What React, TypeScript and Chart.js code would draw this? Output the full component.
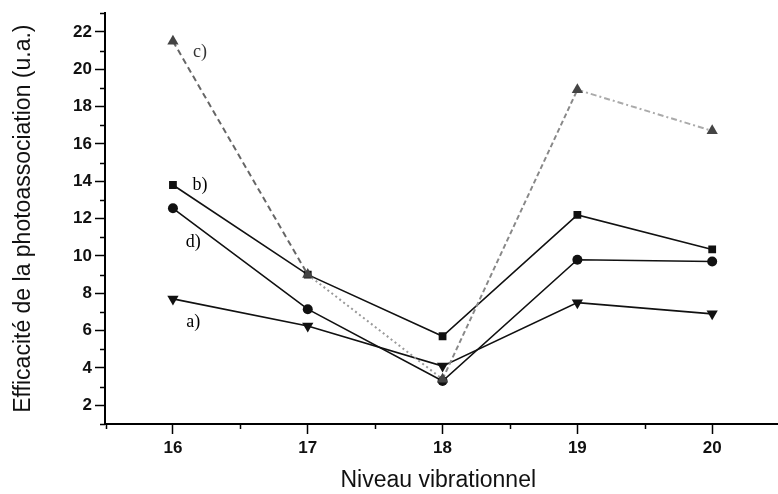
import React, { useEffect, useRef } from 'react';
import { Chart, registerables } from 'chart.js';

Chart.register(...registerables);

// Vibrational levels (x values)
const levels = [16, 17, 18, 19, 20];
// Photoassociation efficiency (arb. units) per curve
const seriesA = [7.7, 6.25, 4.1, 7.5, 6.9];
const seriesB = [13.8, 9.0, 5.7, 12.2, 10.35];
const seriesC = [21.5, 9.0, 3.4, 18.9, 16.7];
const seriesD = [12.55, 7.15, 3.3, 9.8, 9.7];

// Axis ranges
const xRange = [15.496, 20.44];
const yRange = [1, 23];

// Curve annotations (text + data position)
const curveLabels = ['a)', 'b)', 'c)', 'd)'];
const labelX = [16.15, 16.2, 16.2, 16.15];
const labelY = [6.45, 13.8, 20.9, 10.75];

const xTitle = 'Niveau vibrationnel';
const yTitle = 'Efficacité de la photoassociation (u.a.)';

const toPoints = (ys: number[]) => levels.map((x, i) => ({ x, y: ys[i] }));

const cDashes = [[6, 4], [2, 3], [5, 3], [6, 3, 2, 3]];
const cColors = ['#666666', '#999999', '#888888', '#aaaaaa'];

const halfSteps = [15.5, 16.5, 17.5, 18.5, 19.5, 20.5];

const minorTicks = {
  id: 'minorTicks',
  afterDraw(chart: any) {
    const ctx = chart.ctx;
    const xs = chart.scales.x;
    const ys = chart.scales.y;
    ctx.save();
    ctx.strokeStyle = '#000';
    ctx.lineWidth = 1.5;
    ys.ticks.forEach((t: any) => {
      if (t.value % 2 !== 0) {
        const p = Math.round(ys.getPixelForValue(t.value)) + 0.5;
        ctx.beginPath();
        ctx.moveTo(ys.right - 5, p);
        ctx.lineTo(ys.right, p);
        ctx.stroke();
      }
    });
    halfSteps.forEach((v) => {
      if (v < xs.min || v > xs.max) return;
      const p = Math.round(xs.getPixelForValue(v)) + 0.5;
      ctx.beginPath();
      ctx.moveTo(p, xs.top);
      ctx.lineTo(p, xs.top + 5);
      ctx.stroke();
    });
    // axis line continues to the edge of the figure
    ctx.lineWidth = 2;
    ctx.beginPath();
    ctx.moveTo(xs.right - 1, xs.top);
    ctx.lineTo(chart.width, xs.top);
    ctx.stroke();
    ctx.restore();
  },
};

const curveText = {
  id: 'curveText',
  afterDatasetsDraw(chart: any) {
    const ctx = chart.ctx;
    const xs = chart.scales.x;
    const ys = chart.scales.y;
    ctx.save();
    ctx.font = '18px "Liberation Serif", serif';
    ctx.textAlign = 'center';
    ctx.textBaseline = 'middle';
    curveLabels.forEach((txt, i) => {
      ctx.fillStyle = txt === 'c)' ? '#333' : '#000';
      ctx.fillText(txt, xs.getPixelForValue(labelX[i]), ys.getPixelForValue(labelY[i]));
    });
    ctx.restore();
  },
};

export default function App() {
  const ref = useRef<HTMLCanvasElement | null>(null);

  useEffect(() => {
    document.body.style.margin = '0';
    const canvas = ref.current;
    if (!canvas) return;
    const tickFont = { family: '"Liberation Sans", Arial, sans-serif', size: 17, weight: 'bold' as const };
    const titleFont = { family: '"Liberation Sans", Arial, sans-serif', size: 23 };

    const chart = new Chart(canvas, {
      type: 'line',
      data: {
        datasets: [
          {
            label: 'c)',
            data: toPoints(seriesC),
            borderColor: '#888',
            borderWidth: 2,
            pointStyle: 'triangle',
            pointRadius: 6.5,
            pointBackgroundColor: '#444',
            pointBorderColor: '#444',
            pointBorderWidth: 0,
            segment: {
              borderDash: (c: any) => cDashes[c.p0DataIndex],
              borderColor: (c: any) => cColors[c.p0DataIndex],
            },
          },
          {
            label: 'b)',
            data: toPoints(seriesB),
            borderColor: '#111',
            borderWidth: 1.6,
            pointStyle: 'rect',
            pointRadius: 5.5,
            pointBackgroundColor: '#111',
            pointBorderColor: '#111',
            pointBorderWidth: 0,
          },
          {
            label: 'd)',
            data: toPoints(seriesD),
            borderColor: '#111',
            borderWidth: 1.6,
            pointStyle: 'circle',
            pointRadius: 5,
            pointBackgroundColor: '#111',
            pointBorderColor: '#111',
            pointBorderWidth: 0,
          },
          {
            label: 'a)',
            data: toPoints(seriesA),
            borderColor: '#111',
            borderWidth: 1.6,
            pointStyle: 'triangle',
            pointRotation: 180,
            pointRadius: 6.5,
            pointBackgroundColor: '#111',
            pointBorderColor: '#111',
            pointBorderWidth: 0,
          },
        ],
      },
      options: {
        responsive: false,
        animation: false,
        events: [],
        layout: { padding: { top: 9, right: 0, left: 0, bottom: 0 } },
        plugins: {
          legend: { display: false },
          tooltip: { enabled: false },
        },
        scales: {
          x: {
            type: 'linear',
            min: xRange[0],
            max: xRange[1],
            afterFit: (s: any) => { s.height = 70; },
            afterBuildTicks: (s: any) => {
              s.ticks = levels.map((v) => ({ value: v }));
            },
            border: { display: true, color: '#000', width: 2 },
            grid: {
              display: true,
              drawOnChartArea: false,
              drawTicks: true,
              tickLength: 10,
              tickWidth: 1.5,
              tickColor: '#000',
            },
            ticks: {
              autoSkip: false,
              maxRotation: 0,
              padding: 4,
              color: '#111',
              font: tickFont,
              callback: (v: any) => String(v),
            },
            title: {
              display: true,
              text: xTitle,
              color: '#111',
              font: titleFont,
              padding: { top: 0, bottom: 0 },
            },
          },
          y: {
            type: 'linear',
            min: yRange[0],
            max: yRange[1],
            afterFit: (s: any) => { s.width = 105; },
            border: { display: true, color: '#000', width: 2 },
            grid: {
              display: true,
              drawOnChartArea: false,
              drawTicks: true,
              tickLength: 10,
              tickWidth: 1.5,
              tickColor: (c: any) => (c.tick && c.tick.value % 2 === 0 ? '#000' : 'rgba(0,0,0,0)'),
            },
            ticks: {
              stepSize: 1,
              autoSkip: false,
              padding: 3,
              color: '#111',
              font: tickFont,
              callback: (v: any) => (v % 2 === 0 ? String(v) : ''),
            },
            title: {
              display: true,
              text: yTitle,
              color: '#111',
              font: titleFont,
              padding: { top: 10, bottom: 0 },
            },
          },
        },
      },
      plugins: [minorTicks, curveText],
    });

    return () => chart.destroy();
  }, []);

  return <canvas ref={ref} width={778} height={494} style={{ display: 'block' }} />;
}
